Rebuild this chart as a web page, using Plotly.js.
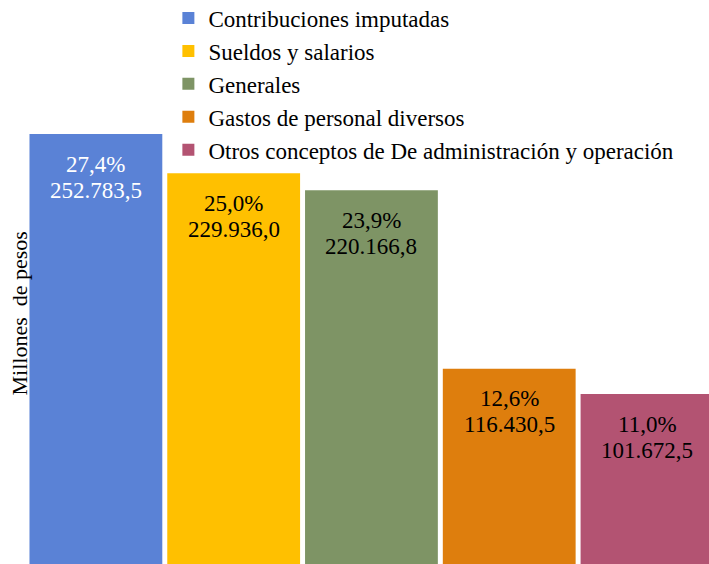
<!DOCTYPE html>
<html>
<head>
<meta charset="utf-8">
<script src="https://cdn.plot.ly/plotly-3.0.1.min.js"></script>
<style>html,body{margin:0;padding:0;background:#fff;}#chart{width:709px;height:564px;}</style>
</head>
<body>
<div id="chart"></div>
<script>
const categories = [
  "Contribuciones imputadas",
  "Sueldos y salarios",
  "Generales",
  "Gastos de personal diversos",
  "Otros conceptos de De administración y operación"
];
const values = [252783.5, 229936.0, 220166.8, 116430.5, 101672.5];
const percentLabels = ["27,4%", "25,0%", "23,9%", "12,6%", "11,0%"];
const valueLabels = ["252.783,5", "229.936,0", "220.166,8", "116.430,5", "101.672,5"];
const colors = ["#5A82D6", "#FFC000", "#7E9465", "#DE7E0D", "#B35372"];
const labelColors = ["#FFFFFF", "#000000", "#000000", "#000000", "#000000"];
const yTitle = "Millones  de pesos";

const FONT = "'Liberation Serif', 'Times New Roman', serif";

const traces = categories.map((c, i) => ({
  type: "bar",
  name: c,
  x: [i],
  y: [values[i]],
  width: 0.964,
  marker: {color: colors[i], line: {width: 0}},
  hoverinfo: "none"
}));

const annotations = [];
categories.forEach((c, i) => {
  annotations.push({
    x: i, y: values[i], xref: "x", yref: "y",
    text: percentLabels[i], showarrow: false,
    xanchor: "center", yanchor: "middle", yshift: -30,
    font: {family: FONT, size: 23, color: labelColors[i]}
  });
  annotations.push({
    x: i, y: values[i], xref: "x", yref: "y",
    text: valueLabels[i], showarrow: false,
    xanchor: "center", yanchor: "middle", yshift: -56,
    font: {family: FONT, size: 23, color: labelColors[i]}
  });
});
annotations.push({
  xref: "paper", yref: "paper", x: -0.011, y: 0.445,
  text: yTitle, showarrow: false, textangle: -90,
  xanchor: "center", yanchor: "middle",
  font: {family: FONT, size: 22, color: "#000000"}
});

const layout = {
  width: 709, height: 564,
  font: {family: FONT, color: "#000000"},
  margin: {l: 26.5, r: 0, t: 0, b: 0, pad: 0, autoexpand: false},
  paper_bgcolor: "#FFFFFF", plot_bgcolor: "#FFFFFF",
  barmode: "overlay",
  showlegend: true,
  legend: {
    x: 0.2073, y: 1.006, xanchor: "left", yanchor: "top",
    font: {family: FONT, size: 23, color: "#000000"},
    bgcolor: "rgba(0,0,0,0)", borderwidth: 0,
    traceorder: "normal"
  },
  xaxis: {range: [-0.5, 4.45], visible: false, fixedrange: true},
  yaxis: {range: [2906, 330700], visible: false, fixedrange: true},
  annotations: annotations
};

Plotly.newPlot("chart", traces, layout, {staticPlot: true, displayModeBar: false});
</script>
</body>
</html>
